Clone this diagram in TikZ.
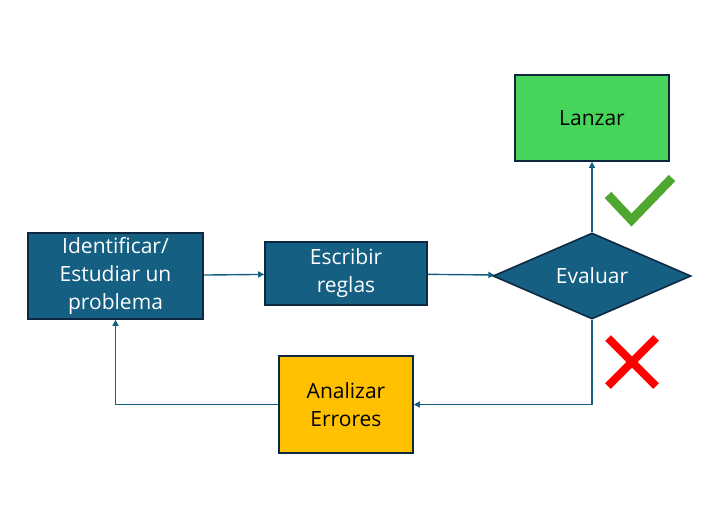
\documentclass[tikz,border=0pt]{standalone}
\usepackage{fontspec}
\setmainfont{Open Sans}
\usetikzlibrary{positioning,shapes,arrows.meta}

\definecolor{azul}{HTML}{156082}
\definecolor{borde}{HTML}{0E2841}
\definecolor{verde}{HTML}{47D45A}
\definecolor{ambar}{HTML}{FFC000}
\definecolor{ok}{HTML}{4EA72E}

\begin{document}
\begin{tikzpicture}[x=1pt,y=-1pt]
		\tikzstyle{block} = [rectangle,draw=borde,line width=1.6pt,fill=azul,text=white,align=center,inner sep=0pt,font=\fontsize{21}{28}\selectfont]
		\tikzstyle{flecha} = [draw=azul,line width=1.4pt,-{Triangle[length=6pt,width=6pt]}]
		
		\useasboundingbox (0,0) rectangle (720,528);
		
		\node[block,minimum width=175,minimum height=86] (id) at (115.5,276) {Identificar/\\Estudiar un\\problema};
		\node[block,minimum width=162,minimum height=63] (esc) at (346,273.5) {Escribir\\reglas};
		\node[block,diamond,aspect=2.3,minimum width=198,minimum height=86] (ev) at (592,276) {Evaluar};
		\node[block,fill=verde,text=black,minimum width=154,minimum height=86] (lz) at (592,118) {Lanzar};
		\node[block,fill=ambar,text=black,minimum width=134,minimum height=97] (an) at (346,404.5) {Analizar\\Errores};
		
		\draw[flecha] (id)--(esc);
		\draw[flecha] (esc)--(ev);
		\draw[flecha] (ev)--(lz);
		\draw[flecha] (ev.south)|-(an.east);
		\draw[flecha] (an.west)-|(id.south);
		
		% si / no
		\draw[ok,line width=9pt] (608,195)--(631.5,220)--(672,178);
		\draw[red,line width=8pt] (608,338)--(656,386);
		\draw[red,line width=8pt] (656,338)--(608,386);
	\end{tikzpicture}
\end{document}
